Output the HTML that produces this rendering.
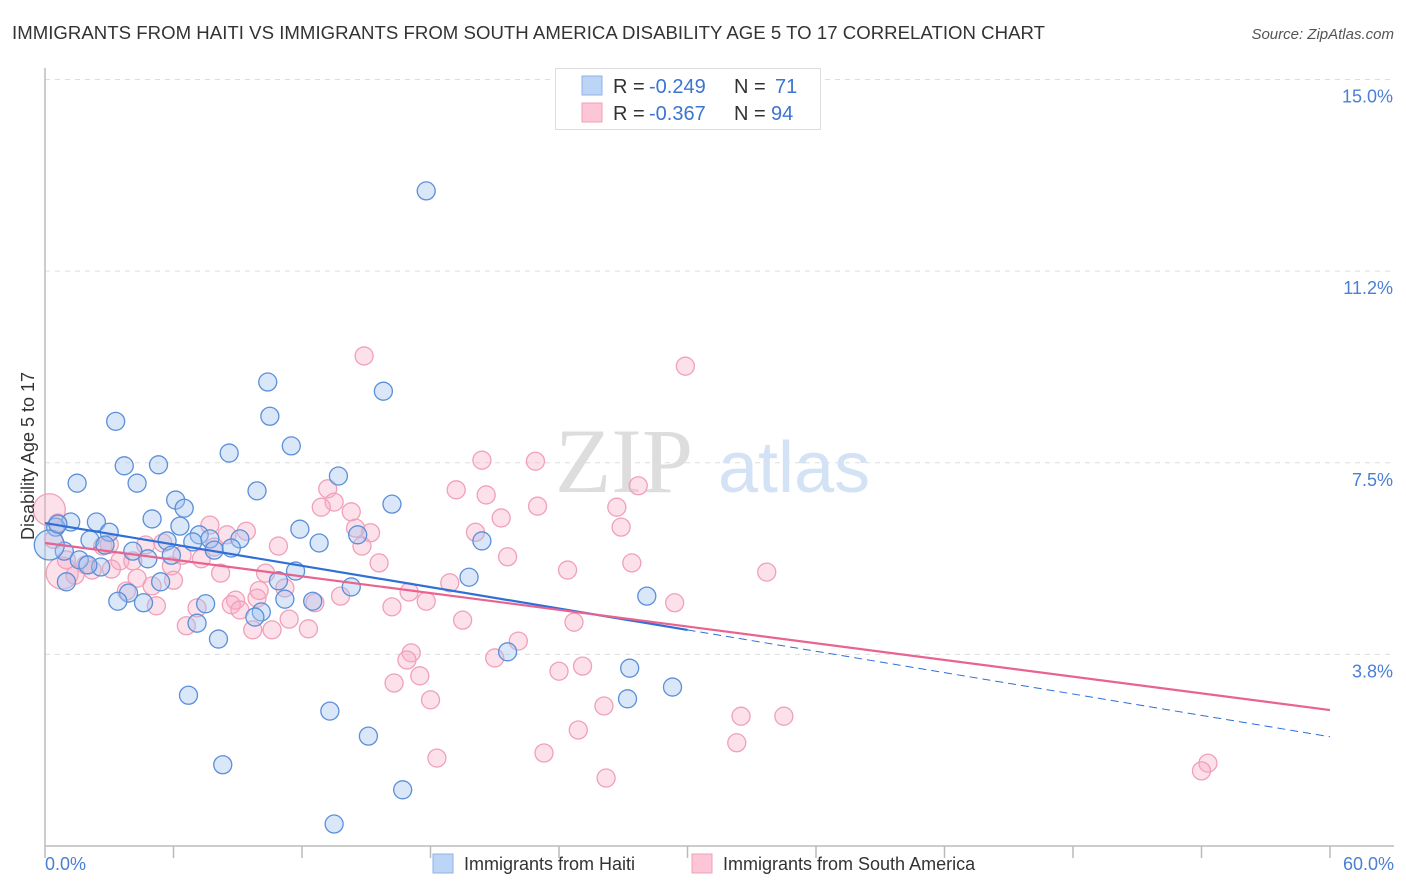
<!DOCTYPE html>
<html><head><meta charset="utf-8"><style>
body{margin:0;background:#fff;font-family:"Liberation Sans",sans-serif}
svg{display:block}
</style></head><body>
<svg id="chart" width="1406" height="892" xmlns="http://www.w3.org/2000/svg">
<text x="12" y="39" font-size="18.6" fill="#333" textLength="1033">IMMIGRANTS FROM HAITI VS IMMIGRANTS FROM SOUTH AMERICA DISABILITY AGE 5 TO 17 CORRELATION CHART</text>
<text x="1394" y="39" font-size="15" fill="#555" font-style="italic" text-anchor="end">Source: ZipAtlas.com</text>
<g id="grid"></g>
<text x="555" y="492" font-size="92" fill="#ddd" font-family="Liberation Serif,serif">ZIP</text>
<text x="718" y="492" font-size="72" fill="#d4e2f5">atlas</text>
<g id="points"></g>
<g id="lines"></g>
<text transform="translate(34,456) rotate(-90)" font-size="18" fill="#333" text-anchor="middle">Disability Age 5 to 17</text>
<text x="45" y="870" font-size="18" fill="#4a7fd4">0.0%</text>
<text x="1394" y="870" font-size="18" fill="#4a7fd4" text-anchor="end">60.0%</text>
<g>
<rect x="555.5" y="68.5" width="265" height="61" fill="#fff" stroke="#ddd"/>
<rect x="582" y="76" width="20" height="19" fill="#bcd4f5" stroke="#8fb2e8"/>
<rect x="582" y="103" width="20" height="19" fill="#fcc6d6" stroke="#f0a0b8"/>
<text x="613" y="93" font-size="20" fill="#333">R =</text>
<text x="649" y="93" font-size="20" fill="#3b74d1">-0.249</text>
<text x="734" y="93" font-size="20" fill="#333">N =</text>
<text x="775" y="93" font-size="20" fill="#3b74d1">71</text>
<text x="613" y="120" font-size="20" fill="#333">R =</text>
<text x="649" y="120" font-size="20" fill="#3b74d1">-0.367</text>
<text x="734" y="120" font-size="20" fill="#333">N =</text>
<text x="771" y="120" font-size="20" fill="#3b74d1">94</text>
</g>
<g>
<rect x="433" y="854" width="20" height="19" fill="#bcd4f5" stroke="#8fb2e8"/>
<text x="464" y="870" font-size="18" fill="#333">Immigrants from Haiti</text>
<rect x="692" y="854" width="20" height="19" fill="#fcc6d6" stroke="#f0a0b8"/>
<text x="723" y="870" font-size="18" fill="#333">Immigrants from South America</text>
</g>
</svg>
<script>
const yTicks=[3.75,7.5,11.25,15];
const yTickLabels=["3.8%","7.5%","11.2%","15.0%"];
const xTicks=[0,6,12,18,24,30,36,42,48,54,60];
const haitiX=[17.8,10.4,15.8,10.5,3.3,11.5,8.6,3.7,5.3,13.7,1.5,4.3,9.9,6.1,6.5,16.2,5.0,1.2,2.4,6.3,11.9,0.5,3.0,2.1,7.2,7.7,9.1,14.6,12.8,20.4,5.7,2.8,0.9,4.1,7.9,8.7,5.9,4.8,2.6,11.7,10.9,19.8,5.4,1.0,14.3,3.9,3.4,4.6,7.5,11.2,12.5,28.1,10.1,9.8,7.1,8.1,21.6,27.3,6.7,29.3,27.2,13.3,15.1,8.3,16.7,13.5,0.2,0.6,1.6,2.0,6.9];
const haitiY=[12.82,9.08,8.90,8.41,8.31,7.83,7.69,7.44,7.46,7.24,7.10,7.10,6.95,6.77,6.61,6.69,6.40,6.34,6.34,6.26,6.20,6.24,6.14,5.99,6.09,6.01,6.01,6.09,5.93,5.97,5.97,5.89,5.77,5.77,5.79,5.83,5.69,5.62,5.46,5.38,5.19,5.26,5.17,5.17,5.07,4.95,4.79,4.76,4.74,4.83,4.79,4.89,4.58,4.48,4.36,4.05,3.80,3.48,2.95,3.11,2.88,2.64,2.15,1.59,1.10,0.43,5.89,6.30,5.60,5.50,5.95];
const saX=[14.9,29.9,20.4,22.9,27.7,13.2,19.2,20.6,13.5,23.0,26.7,12.9,14.3,0.2,21.3,0.6,26.9,7.7,14.5,15.2,20.1,9.4,8.5,4.7,5.5,10.9,14.8,2.7,7.9,6.4,21.6,3.5,4.1,7.3,15.6,1.9,27.4,5.9,3.1,24.4,33.7,8.2,10.3,0.8,1.4,4.3,18.9,11.2,5.0,3.8,17.0,13.8,8.9,9.9,17.8,12.6,29.4,8.7,5.2,7.1,16.2,9.1,11.4,19.5,24.7,6.6,9.7,10.6,12.3,22.1,17.1,21.0,16.9,25.1,24.0,17.5,16.3,18.0,26.1,32.5,34.5,24.9,32.3,23.3,18.3,26.2,54.3,54.0,0.4,1.0,2.2,3.0,6.0,10.0];
const saY=[9.59,9.39,7.55,7.53,7.05,6.99,6.97,6.87,6.73,6.65,6.63,6.63,6.54,6.58,6.42,6.32,6.24,6.28,6.22,6.13,6.14,6.16,6.09,5.89,5.93,5.87,5.87,5.87,5.85,5.69,5.66,5.58,5.58,5.62,5.54,5.50,5.54,5.48,5.42,5.40,5.36,5.34,5.34,5.34,5.30,5.24,5.15,5.05,5.09,4.99,4.97,4.89,4.81,4.85,4.79,4.76,4.76,4.72,4.70,4.66,4.68,4.62,4.44,4.42,4.38,4.31,4.23,4.23,4.25,4.01,3.78,3.68,3.64,3.52,3.42,3.33,3.19,2.86,2.74,2.54,2.54,2.27,2.02,1.82,1.72,1.33,1.62,1.47,6.00,5.60,5.40,5.90,5.20,5.00];
const haitiTrend=[6.32,-0.0697];
const saTrend=[5.93,-0.0545];
const X0=45,X1=1330,Y0=846,YT=79.5;
const xs=v=>X0+(v/60)*(X1-X0);
const ys=v=>Y0-(v/15)*(Y0-YT);
const NS="http://www.w3.org/2000/svg";
function mk(t,a,p){const e=document.createElementNS(NS,t);for(const k in a)e.setAttribute(k,a[k]);p.appendChild(e);return e;}
const grid=document.getElementById('grid');
yTicks.forEach((t,i)=>{
 const l=mk('line',{x1:X0,x2:1394,y1:ys(t),y2:ys(t),stroke:'#ddd','stroke-dasharray':'5,5'},grid);
 
 
 const tx=mk('text',{x:1393,y:ys(t)+23,'font-size':18,fill:'#4a7fd4','text-anchor':'end'},grid);
 tx.textContent=yTickLabels[i];
 
 
});
const ya=mk('line',{x1:X0,x2:X0,y1:68,y2:Y0,stroke:'#bbb','stroke-width':1.5},grid);


const xa=mk('line',{x1:X0,x2:1394,y1:Y0,y2:Y0,stroke:'#bbb','stroke-width':1.5},grid);


xTicks.forEach(t=>{
 const l=mk('line',{x1:xs(t),x2:xs(t),y1:Y0,y2:Y0+12,stroke:'#bbb','stroke-width':1.5},grid);
 
 
});
const pts=document.getElementById('points');
saX.forEach((x,i)=>{
 const big=(i===13||i===43);
 const c=mk('circle',{cx:xs(x),cy:ys(saY[i]),r:big?16:9,fill:'rgba(248,170,195,0.35)',stroke:'#f0a0b8','stroke-width':1.3},pts);
 
 
});
haitiX.forEach((x,i)=>{
 const big=(i===66);
 const c=mk('circle',{cx:xs(x),cy:ys(haitiY[i]),r:big?15:9,fill:'rgba(160,195,240,0.4)',stroke:'#5b8fd9','stroke-width':1.3},pts);
 
 
});
const ln=document.getElementById('lines');
const f=(tr,x)=>tr[0]+tr[1]*x;
const b1=mk('line',{x1:xs(0),y1:ys(f(haitiTrend,0)),x2:xs(30),y2:ys(f(haitiTrend,30)),stroke:'#2f6fd6','stroke-width':2.2},ln);


const b2=mk('line',{x1:xs(30),y1:ys(f(haitiTrend,30)),x2:xs(60),y2:ys(f(haitiTrend,60)),stroke:'#2f6fd6','stroke-width':1,'stroke-dasharray':'8,5'},ln);


const p1=mk('line',{x1:xs(0),y1:ys(f(saTrend,0)),x2:xs(60),y2:ys(f(saTrend,60)),stroke:'#e8638f','stroke-width':2.2},ln);


</script>
</body></html>
